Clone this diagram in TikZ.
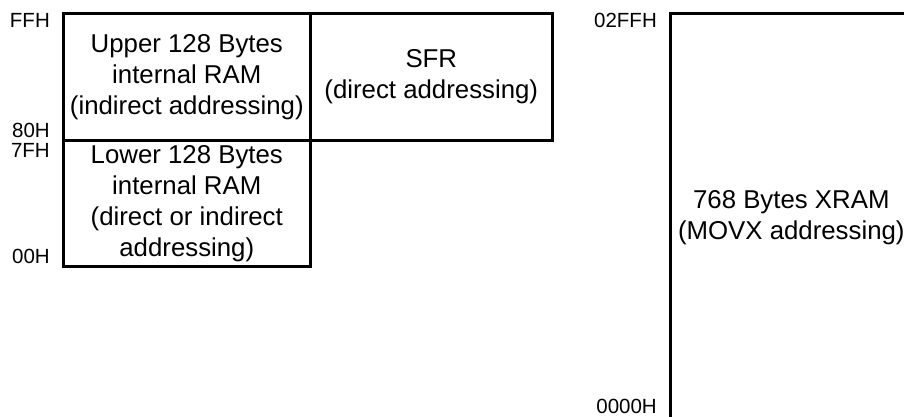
\documentclass[tikz,border=0pt]{standalone}
\usepackage{fontspec}
\setmainfont{Liberation Sans}
\begin{document}
\begin{tikzpicture}[x=1pt,y=-1pt,
  membox/.style={draw=black, line width=2.6pt, rectangle, anchor=north west,
    align=center, inner sep=0pt, font=\fontsize{25.8}{31}\selectfont},
  addr/.style={anchor=base east, inner sep=0pt, font=\fontsize{20.5}{24}\selectfont}]
\useasboundingbox (0,0) rectangle (904,417);
\clip (0,0) rectangle (904,417);
\node[membox, minimum width=247pt, minimum height=127pt] (upper) at (62,12)
  {Upper 128 Bytes\\internal RAM\\(indirect addressing)};
\node[membox, minimum width=242pt, minimum height=127pt] (sfr) at (309,12)
  {SFR\\(direct addressing)};
\node[membox, minimum width=247pt, minimum height=126pt] (lower) at (62,139)
  {Lower 128 Bytes\\internal RAM\\(direct or indirect\\addressing)};
\node[membox, minimum width=242pt, minimum height=408pt] (xram) at (669,12)
  {768 Bytes XRAM\\(MOVX addressing)};
\node[addr] (ffh) at (50,28) {FFH};
\node[addr] (h80) at (50,138) {80H};
\node[addr] (h7f) at (50,157) {7FH};
\node[addr] (h00) at (50,263) {00H};
\node[addr] (h2ff) at (657,28) {02FFH};
\node[addr] (h0000) at (657,413) {0000H};
\end{tikzpicture}
\end{document}
